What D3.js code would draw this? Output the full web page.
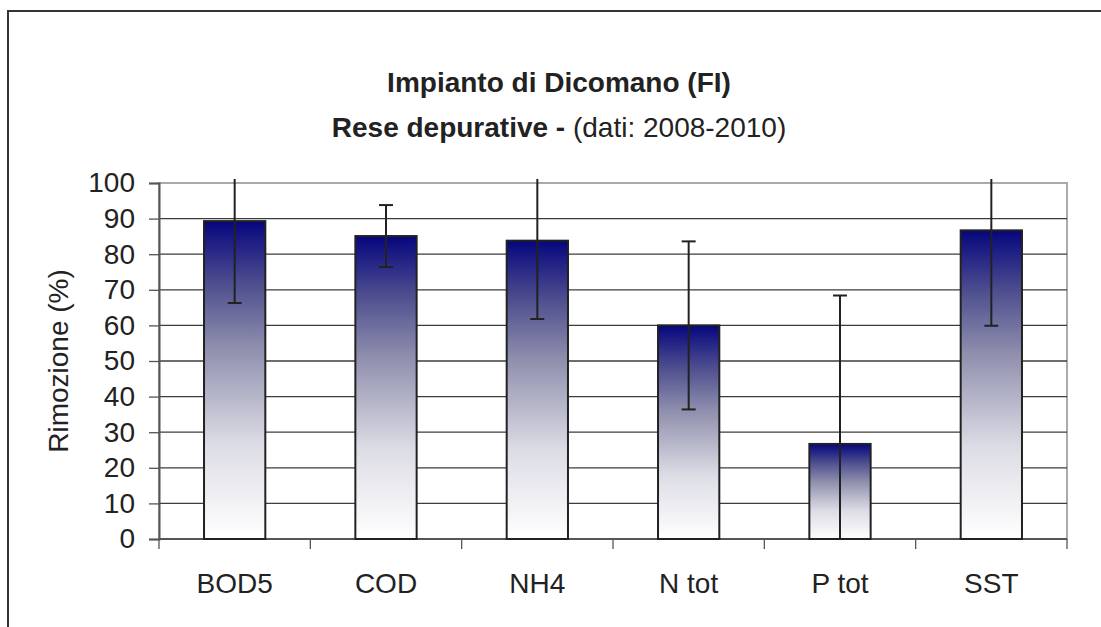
<!DOCTYPE html>
<html>
<head>
<meta charset="utf-8">
<script src="https://cdn.jsdelivr.net/npm/d3@7"></script>
<style>
  body { margin: 0; background: #fff; }
  svg { display: block; font-family: "Liberation Sans", Arial, sans-serif; }
</style>
</head>
<body>
<svg width="1101" height="627"></svg>
<script>
// data
var categories = ["BOD5", "COD", "NH4", "N tot", "P tot", "SST"];
var values = [89.3, 85.1, 83.8, 60.0, 26.7, 86.7];
var errors = [23.0, 8.7, 22.0, 23.6, 41.7, 26.8];
var yTicks = [0, 10, 20, 30, 40, 50, 60, 70, 80, 90, 100];

var margin = { top: 183, bottom: 88, left: 159, right: 34 };
var width = 1101, height = 627;

var svg = d3.select("svg");

// outer chart border (runs off to the right and bottom)
svg.append("rect")
    .attr("x", 8).attr("y", 11)
    .attr("width", 1200).attr("height", 800)
    .attr("fill", "none")
    .attr("stroke", "#333")
    .attr("stroke-width", 2);

var x = d3.scaleBand()
    .domain(categories)
    .range([margin.left, width - margin.right])
    .padding(0);

var y = d3.scaleLinear()
    .domain([0, 100])
    .range([height - margin.bottom, margin.top]);

// gradient for the bars: navy at top fading to white
var grad = svg.append("defs").append("linearGradient")
    .attr("id", "barGrad")
    .attr("x1", 0).attr("y1", 0).attr("x2", 0).attr("y2", 1);
[[0, "#06067f"], [0.2, "#4f4f8f"], [0.4, "#8f8fae"], [0.7, "#dcdce5"], [1, "#ffffff"]]
    .forEach(function (s) {
        grad.append("stop").attr("offset", s[0]).attr("stop-color", s[1]);
    });

// plot area frame (grey, top and right)
svg.append("rect")
    .attr("x", margin.left).attr("y", y(100))
    .attr("width", x.range()[1] - margin.left)
    .attr("height", y(0) - y(100))
    .attr("fill", "none")
    .attr("stroke", "#aaa")
    .attr("stroke-width", 2);

// gridlines
svg.append("g")
    .selectAll("line")
    .data(yTicks.filter(function (d) { return d > 0; }))
    .enter().append("line")
    .attr("x1", margin.left).attr("x2", x.range()[1])
    .attr("y1", function (d) { return y(d); })
    .attr("y2", function (d) { return y(d); })
    .attr("stroke", function (d) { return d === 100 ? "#aaa" : "#3c3c3c"; })
    .attr("stroke-width", 1.3);

// y axis
var yAxis = svg.append("g")
    .attr("transform", "translate(" + margin.left + ",0)")
    .call(d3.axisLeft(y).tickValues(yTicks).tickSize(10).tickPadding(14));
yAxis.select(".domain").attr("stroke", "#555").attr("stroke-width", 2);
yAxis.selectAll(".tick line").attr("stroke", "#555").attr("stroke-width", 1.3);
yAxis.selectAll("text").attr("font-size", 28).attr("fill", "#222")
    .attr("font-family", "Liberation Sans, Arial, sans-serif");

// x axis, ticks between categories
var xAxis = svg.append("g")
    .attr("transform", "translate(0," + y(0) + ")");
xAxis.append("line")
    .attr("x1", margin.left).attr("x2", x.range()[1])
    .attr("stroke", "#555").attr("stroke-width", 2);
xAxis.selectAll(".xt")
    .data(categories.concat(["end"]))
    .enter().append("line")
    .attr("class", "xt")
    .attr("x1", function (d, i) { return margin.left + i * x.step(); })
    .attr("x2", function (d, i) { return margin.left + i * x.step(); })
    .attr("y1", 0).attr("y2", 10)
    .attr("stroke", "#555").attr("stroke-width", 1.3);
xAxis.selectAll(".xl")
    .data(categories)
    .enter().append("text")
    .attr("class", "xl")
    .attr("x", function (d) { return x(d) + x.bandwidth() / 2; })
    .attr("y", 54)
    .attr("text-anchor", "middle")
    .attr("font-size", 28)
    .attr("fill", "#222")
    .text(function (d) { return d; });

// bars
var barW = x.bandwidth() * 0.405;
svg.append("g")
    .selectAll("rect")
    .data(values)
    .enter().append("rect")
    .attr("x", function (d, i) { return x(categories[i]) + (x.bandwidth() - barW) / 2; })
    .attr("y", function (d) { return y(d); })
    .attr("width", barW)
    .attr("height", function (d) { return y(0) - y(d); })
    .attr("fill", "url(#barGrad)")
    .attr("stroke", "#222")
    .attr("stroke-width", 2);

// error bars (clipped just above the plot top and at zero)
var topLimit = y(100) - 4;
var capW = 14;
var eb = svg.append("g")
    .selectAll("g")
    .data(values)
    .enter().append("g")
    .attr("stroke", "#222")
    .attr("stroke-width", 2);
eb.append("line")
    .attr("x1", function (d, i) { return x(categories[i]) + x.bandwidth() / 2; })
    .attr("x2", function (d, i) { return x(categories[i]) + x.bandwidth() / 2; })
    .attr("y1", function (d, i) { return Math.max(y(d + errors[i]), topLimit); })
    .attr("y2", function (d, i) { return y(Math.max(d - errors[i], 0)); });
eb.filter(function (d, i) { return d + errors[i] <= 100; })
    .append("line")
    .attr("x1", function (d, i) { return x(categories[values.indexOf(d)]) + x.bandwidth() / 2 - capW / 2; })
    .attr("x2", function (d, i) { return x(categories[values.indexOf(d)]) + x.bandwidth() / 2 + capW / 2; })
    .attr("y1", function (d) { return y(d + errors[values.indexOf(d)]); })
    .attr("y2", function (d) { return y(d + errors[values.indexOf(d)]); });
eb.filter(function (d, i) { return d - errors[i] >= 0; })
    .append("line")
    .attr("x1", function (d) { return x(categories[values.indexOf(d)]) + x.bandwidth() / 2 - capW / 2; })
    .attr("x2", function (d) { return x(categories[values.indexOf(d)]) + x.bandwidth() / 2 + capW / 2; })
    .attr("y1", function (d) { return y(d - errors[values.indexOf(d)]); })
    .attr("y2", function (d) { return y(d - errors[values.indexOf(d)]); });

// y axis title
svg.append("text")
    .attr("transform", "translate(68," + ((y(0) + y(100)) / 2) + ") rotate(-90)")
    .attr("text-anchor", "middle")
    .attr("font-size", 28)
    .attr("fill", "#222")
    .text("Rimozione (%)");

// chart title
var cx = 559;
svg.append("text")
    .attr("x", cx).attr("y", 92)
    .attr("text-anchor", "middle")
    .attr("font-size", 28)
    .attr("font-weight", "bold")
    .attr("fill", "#222")
    .text("Impianto di Dicomano (FI)");
var t2 = svg.append("text")
    .attr("x", cx).attr("y", 137)
    .attr("text-anchor", "middle")
    .attr("font-size", 28)
    .attr("fill", "#222");
t2.append("tspan").attr("font-weight", "bold").text("Rese depurative - ");
t2.append("tspan").text("(dati: 2008-2010)");
</script>
</body>
</html>
